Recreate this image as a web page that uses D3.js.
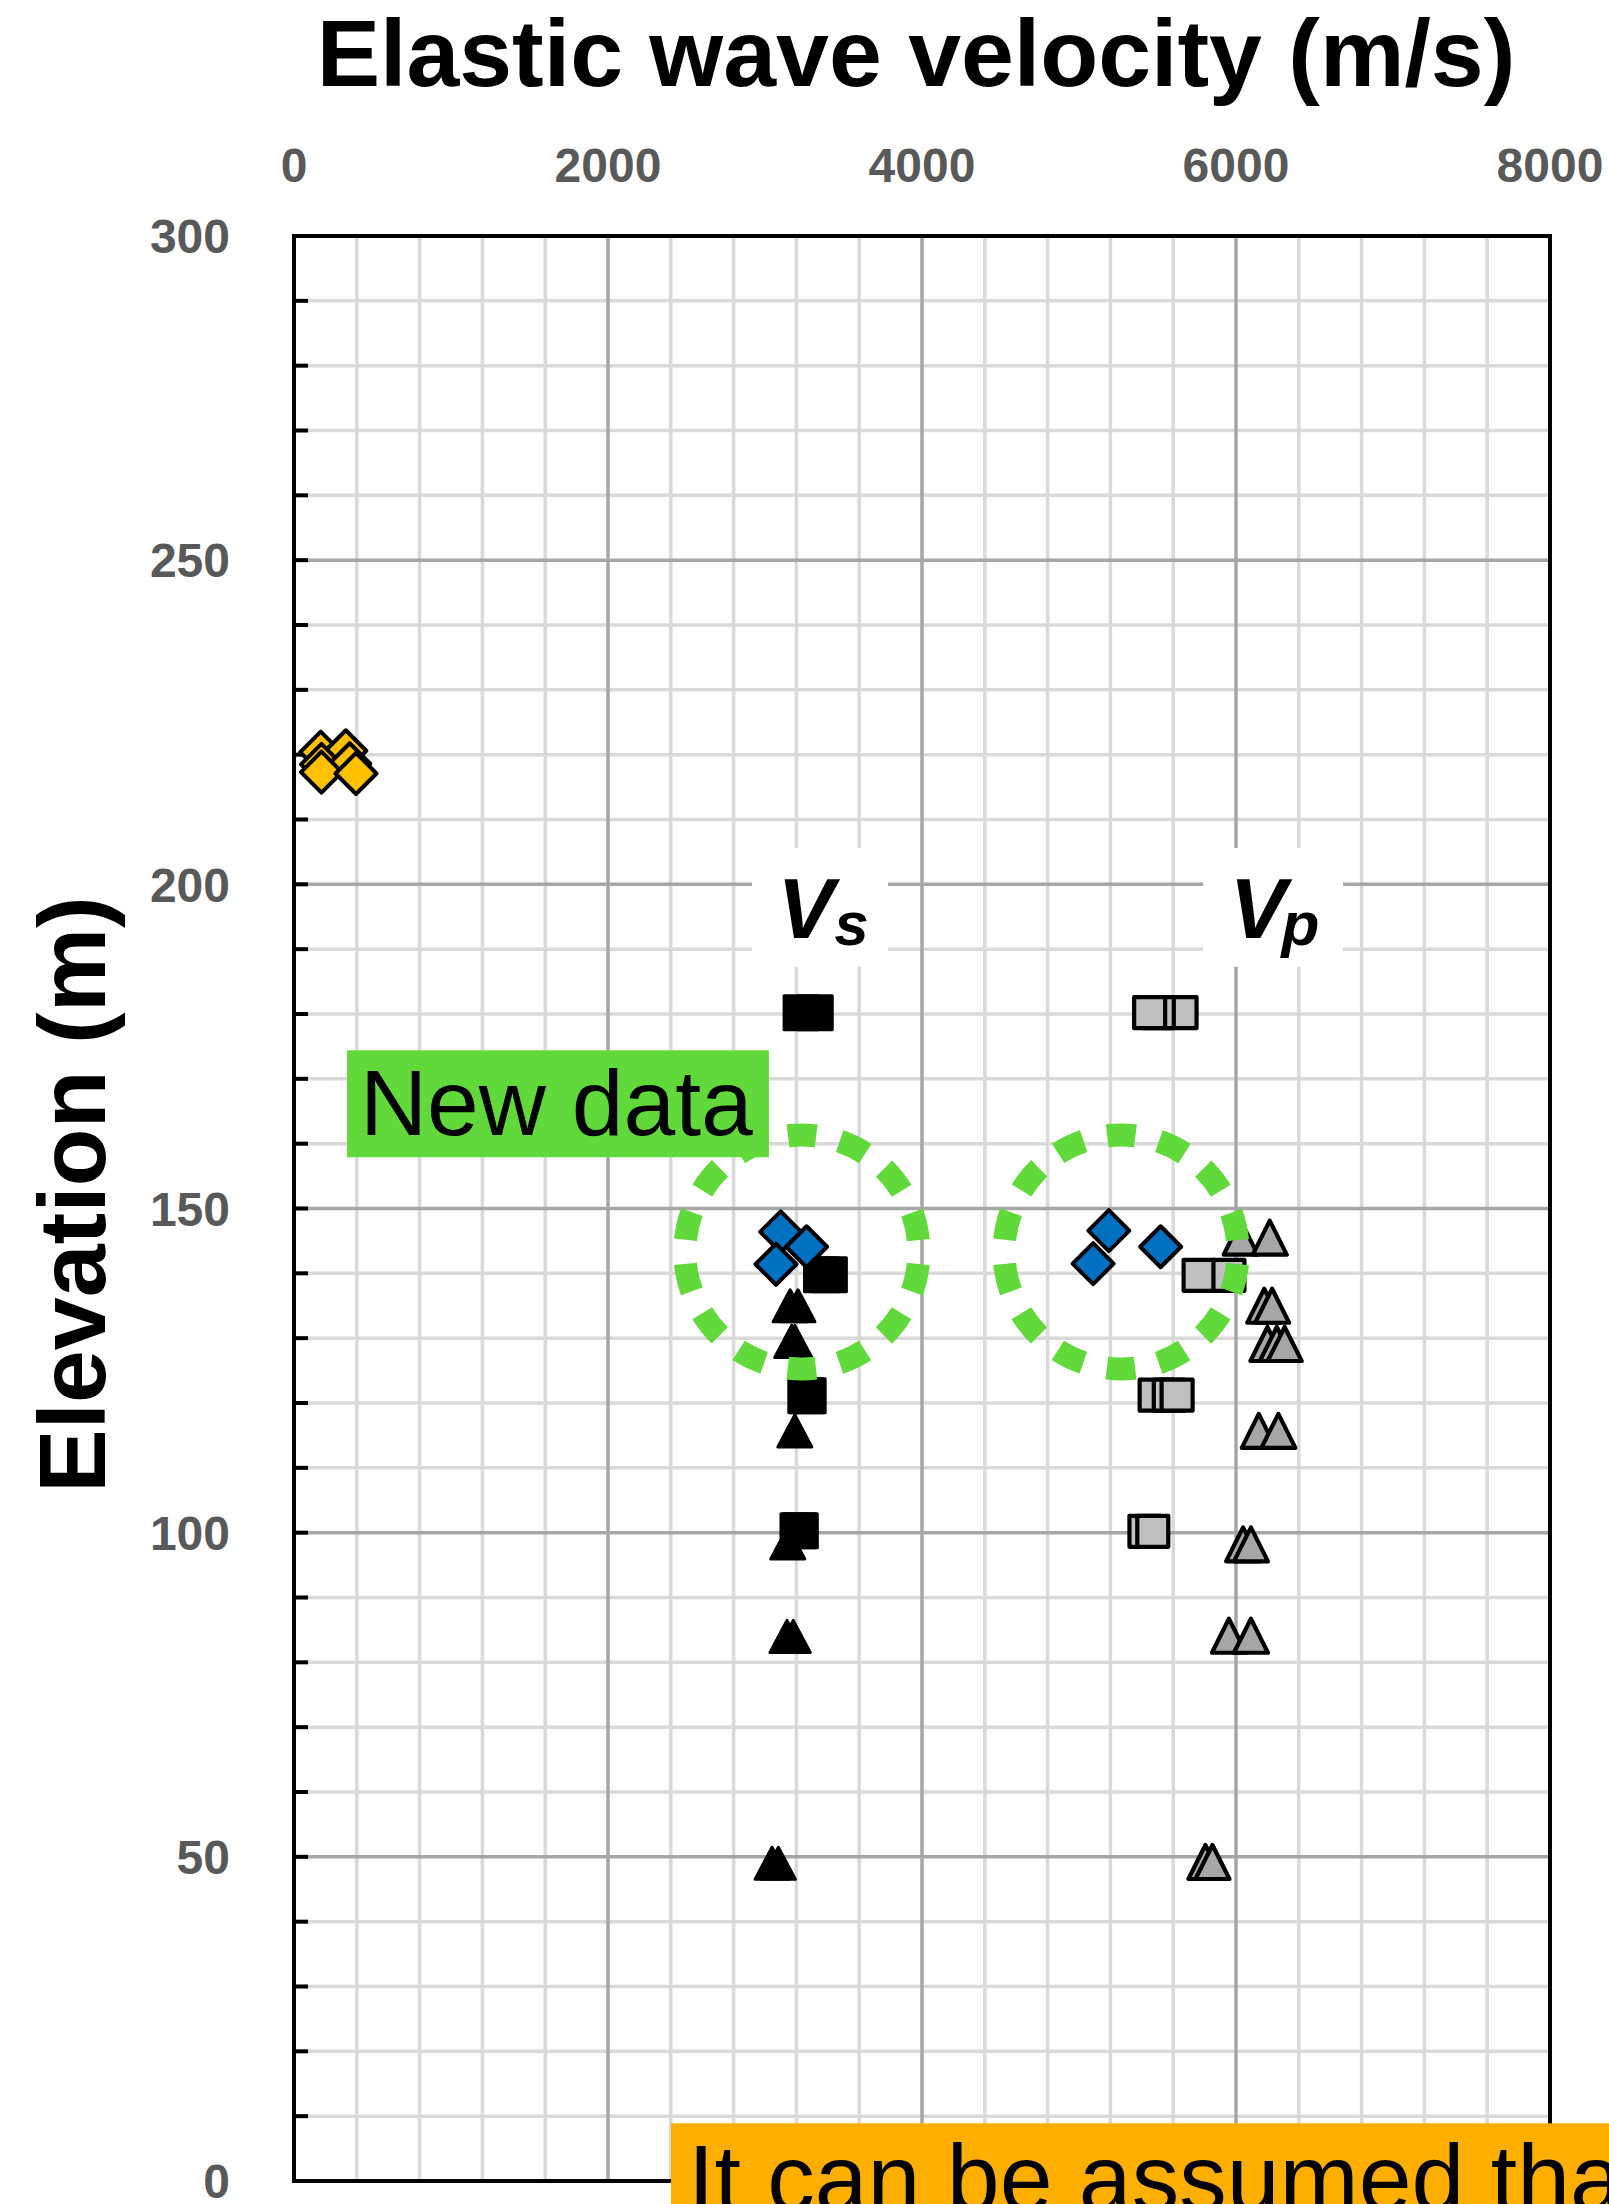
<!DOCTYPE html>
<html>
<head>
<meta charset="utf-8">
<script src="https://cdn.jsdelivr.net/npm/d3@7"></script>
<style>
  body { margin: 0; background: #fff; }
  svg { display: block; }
  text { font-family: "Liberation Sans", Arial, sans-serif; }
</style>
</head>
<body>
<svg id="chart"></svg>
<script>
// axis ticks
const xTicks = [0, 2000, 4000, 6000, 8000];
const yTicks = [0, 50, 100, 150, 200, 250, 300];

// [velocity m/s, elevation m]
const shallowDiamonds = [[170, 220.4], [330, 220.6], [175, 218.5], [355, 218.6], [175, 217.3], [395, 217.1]];
const vsTriangles = [[3160, 135], [3210, 135], [3170, 129.5], [3190, 129.5], [3190, 115.7],
                     [3145, 98.4], [3140, 84], [3180, 84], [3045, 49], [3085, 49]];
const vpTriangles = [[6030, 145.5], [6215, 145.5], [6180, 135], [6230, 135], [6200, 129.1], [6260, 129.1], [6310, 129.1],
                     [6145, 115.7], [6270, 115.7], [6045, 98.2], [6095, 98.2], [5955, 84.1], [6095, 84.1], [5805, 49.2], [5850, 49.2]];
const vsSquares = [[3230, 180.2], [3320, 180.2], [3360, 139.8], [3410, 139.8], [3260, 121.1], [3275, 121.1], [3210, 100.3], [3225, 100.3]];
const vpSquares = [[5650, 180.2], [5505, 180.2], [5450, 180.2], [5765, 139.7], [5955, 139.7],
                   [5485, 121.2], [5575, 121.2], [5625, 121.2], [5420, 100.2], [5470, 100.2]];
const newVs = [[3100, 146.4], [3265, 144.1], [3070, 141.4]];
const newVp = [[5190, 146.6], [5520, 144.1], [5090, 141.5]];

// annotation anchors (data units)
const circleCenters = [[3235, 143.3], [5268, 143.3]];
const circleRadius = 18.05;

const width = 1609, height = 2204;
const margin = {top: 236, right: 59, bottom: 23, left: 294};

const svg = d3.select("#chart")
    .attr("width", width)
    .attr("height", height);

const x = d3.scaleLinear().domain([0, 8000]).range([margin.left, width - margin.right]);
const y = d3.scaleLinear().domain([0, 300]).range([height - margin.bottom, margin.top]);

// gridlines
const grid = svg.append("g");
const xMinor = d3.range(400, 8000, 400).filter(d => d % 2000 !== 0);
const yMinor = d3.range(10, 300, 10).filter(d => d % 50 !== 0);

grid.selectAll(".xminor").data(xMinor).enter().append("line")
    .attr("x1", d => x(d)).attr("x2", d => x(d))
    .attr("y1", y(300)).attr("y2", y(0))
    .attr("stroke", "#d9d9d9").attr("stroke-width", 3.5);
grid.selectAll(".yminor").data(yMinor).enter().append("line")
    .attr("y1", d => y(d)).attr("y2", d => y(d))
    .attr("x1", x(0)).attr("x2", x(8000))
    .attr("stroke", "#d9d9d9").attr("stroke-width", 3.5);
grid.selectAll(".xmajor").data(xTicks.slice(1, -1)).enter().append("line")
    .attr("x1", d => x(d)).attr("x2", d => x(d))
    .attr("y1", y(300)).attr("y2", y(0))
    .attr("stroke", "#a6a6a6").attr("stroke-width", 3.5);
grid.selectAll(".ymajor").data(yTicks.slice(1, -1)).enter().append("line")
    .attr("y1", d => y(d)).attr("y2", d => y(d))
    .attr("x1", x(0)).attr("x2", x(8000))
    .attr("stroke", "#a6a6a6").attr("stroke-width", 3.5);

// frame
svg.append("rect")
    .attr("x", x(0)).attr("y", y(300))
    .attr("width", x(8000) - x(0)).attr("height", y(0) - y(300))
    .attr("fill", "none").attr("stroke", "#000").attr("stroke-width", 4);

// minor ticks on the left axis
svg.append("g").selectAll("line").data(d3.range(10, 300, 10)).enter().append("line")
    .attr("x1", x(0)).attr("x2", x(0) + 14)
    .attr("y1", d => y(d)).attr("y2", d => y(d))
    .attr("stroke", "#000").attr("stroke-width", 4);

// tick labels
svg.append("g").selectAll("text").data(xTicks).enter().append("text")
    .attr("x", d => x(d)).attr("y", 182)
    .attr("text-anchor", "middle")
    .attr("font-size", 48).attr("font-weight", "bold").attr("fill", "#595959")
    .text(d => d);
svg.append("g").selectAll("text").data(yTicks).enter().append("text")
    .attr("x", 230).attr("y", d => y(d)).attr("dy", "0.36em")
    .attr("text-anchor", "end")
    .attr("font-size", 48).attr("font-weight", "bold").attr("fill", "#595959")
    .text(d => d);

// axis titles
svg.append("text")
    .attr("x", 916).attr("y", 86)
    .attr("text-anchor", "middle")
    .attr("font-size", 95).attr("font-weight", "bold")
    .text("Elastic wave velocity (m/s)");
svg.append("text")
    .attr("transform", "translate(105," + ((y(0) + y(300)) / 2 - 14) + ") rotate(-90)")
    .attr("text-anchor", "middle")
    .attr("font-size", 95).attr("font-weight", "bold")
    .text("Elevation (m)");

// marker shapes
const diamond = r => `M0,${-r}L${r},0L0,${r}L${-r},0Z`;
const square = s => `M${-s / 2},${-s / 2}h${s}v${s}h${-s}Z`;
const triangle = (w, h) => `M0,${-h / 2}L${w / 2},${h / 2}L${-w / 2},${h / 2}Z`;

function addSeries(data, path, fill, strokeW) {
  svg.append("g").selectAll("path").data(data).enter().append("path")
      .attr("transform", d => "translate(" + x(d[0]) + "," + y(d[1]) + ")")
      .attr("d", path)
      .attr("fill", fill)
      .attr("stroke", "#000")
      .attr("stroke-width", strokeW)
      .attr("stroke-linejoin", "round");
}

addSeries(shallowDiamonds, diamond(20.5), "#ffc000", 4);
addSeries(vsTriangles, triangle(34, 32), "#000", 3);
addSeries(vpTriangles, triangle(34, 34), "#a6a6a6", 4.2);
addSeries(vsSquares, square(34), "#000", 3);
addSeries(vpSquares, square(31), "#bfbfbf", 4.2);
addSeries(newVs, diamond(20.5), "#0070c0", 4);
addSeries(newVp, diamond(20.5), "#0070c0", 4);

// dashed circles around the new data
const rPx = y(0) - y(circleRadius);
const circ = 2 * Math.PI * rPx;
const period = circ / 14, dash = period * 0.54, gap = period - dash;
svg.append("g").selectAll("circle").data(circleCenters).enter().append("circle")
    .attr("cx", d => x(d[0])).attr("cy", d => y(d[1]))
    .attr("r", rPx)
    .attr("fill", "none")
    .attr("stroke", "#62d93a")
    .attr("stroke-width", 23)
    .attr("stroke-dasharray", dash + " " + gap)
    .attr("stroke-dashoffset", -gap / 2);

// Vs / Vp labels on white boxes
const vLabels = [
  {sub: "s", x0: 2917, x1: 3783, tx: 3080, dx: 0},
  {sub: "p", x0: 5790, x1: 6682, tx: 5960, dx: -5}
];
const vg = svg.append("g").selectAll("g").data(vLabels).enter().append("g");
vg.append("rect")
    .attr("x", d => x(d.x0)).attr("width", d => x(d.x1) - x(d.x0))
    .attr("y", y(205.6)).attr("height", y(187.3) - y(205.6))
    .attr("fill", "#fff");
const vt = vg.append("text")
    .attr("x", d => x(d.tx)).attr("y", y(191.7))
    .attr("font-size", 85).attr("font-weight", "bold").attr("font-style", "italic");
vt.append("tspan").text("V");
vt.append("tspan")
    .attr("dx", d => d.dx).attr("dy", 7)
    .attr("font-size", 62)
    .text(d => d.sub);

// "New data" label
svg.append("rect")
    .attr("x", x(338)).attr("width", x(3025) - x(338))
    .attr("y", y(174.4)).attr("height", y(157.9) - y(174.4))
    .attr("fill", "#62d93a");
svg.append("text")
    .attr("x", x(420)).attr("y", y(161.4))
    .attr("font-size", 93)
    .text("New data");

// orange note at the bottom
svg.append("rect")
    .attr("x", x(2401)).attr("width", width - x(2401))
    .attr("y", y(8.9)).attr("height", height - y(8.9))
    .attr("fill", "#fcaf00");
svg.append("text")
    .attr("x", x(2510)).attr("y", y(8.9) + 88)
    .attr("font-size", 95)
    .text("It can be assumed that");
</script>
</body>
</html>
